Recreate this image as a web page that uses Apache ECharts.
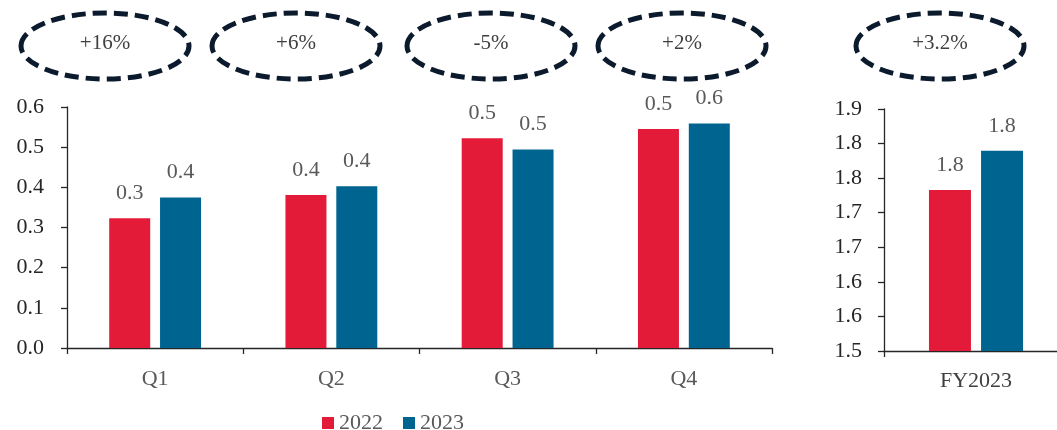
<!DOCTYPE html>
<html lang="en">
<head>
    <meta charset="UTF-8">
    <title>Quarterly vs FY</title>
    <script src="https://cdn.jsdelivr.net/npm/echarts@6/dist/echarts.min.js"></script>
    <style>
        html, body { margin: 0; padding: 0; background: #fff; }
        #chart { width: 1057px; height: 430px; }
    </style>
</head>
<body>
    <div id="chart"></div>

    <script>
// data
const quarters = ['Q1', 'Q2', 'Q3', 'Q4'];
const q2022 = [0.323, 0.381, 0.522, 0.545];
const q2023 = [0.375, 0.403, 0.494, 0.559];

const fyLabel = ['FY2023'];
const fy2022 = [1.766];
const fy2023 = [1.831];

const growthLabels = ['+16%', '+6%', '-5%', '+2%', '+3.2%'];

// left axis ticks 0.0 .. 0.6, right axis has 7 equal steps between 1.5 and 1.9
const leftTicks = [0, 0.1, 0.2, 0.3, 0.4, 0.5, 0.6];
const rightTicks = [1.5, 1.5571, 1.6143, 1.6714, 1.7286, 1.7857, 1.8429, 1.9];

// layout of the dashed bubbles (x centres)
const bubbleX = [105, 296, 491, 682, 940];

const RED = '#E31A38';
const BLUE = '#006490';
const FONT = "'Times New Roman', 'Liberation Serif', serif";
const FS = 22;

const chart = echarts.init(document.getElementById('chart'));

function fmt(v) {
    return Number(v).toFixed(1);
}

const axisLine = { show: true, lineStyle: { color: '#262626', width: 1.3 } };
const axisTick = { show: true, length: 6, lineStyle: { color: '#262626', width: 1.3 } };

function barLabel() {
    return {
        show: true,
        position: 'top',
        distance: 14,
        color: '#595959',
        fontSize: FS,
        fontFamily: FONT,
        formatter: p => fmt(p.value)
    };
}

const graphics = growthLabels.map((txt, i) => ({
    type: 'group',
    children: [
        {
            type: 'ellipse',
            shape: { cx: bubbleX[i], cy: 46, rx: 84, ry: 33 },
            style: { fill: 'rgba(0,0,0,0)', stroke: '#0b1a2c', lineWidth: 5, lineDash: [14, 7] }
        },
        {
            type: 'text',
            x: bubbleX[i],
            y: 43,
            style: {
                text: txt,
                fill: '#404040',
                font: '21px ' + FONT,
                textAlign: 'center',
                textVerticalAlign: 'middle'
            }
        }
    ]
}));

const option = {
    backgroundColor: '#fff',
    animation: false,
    textStyle: { fontFamily: FONT },
    legend: {
        data: ['2022', '2023'],
        left: 317,
        top: 407,
        icon: 'rect',
        itemWidth: 12,
        itemHeight: 12,
        itemGap: 20,
        textStyle: { color: '#595959', fontSize: FS, fontFamily: FONT }
    },
    graphic: graphics,
    grid: [
        { left: 67, top: 107, width: 705, height: 241, outerBoundsMode: 'none' },
        { left: 884, top: 109, width: 184, height: 242, outerBoundsMode: 'none' }
    ],
    xAxis: [
        {
            type: 'category',
            gridIndex: 0,
            data: quarters,
            axisLine: axisLine,
            axisTick: axisTick,
            axisLabel: { color: '#595959', fontSize: FS, fontFamily: FONT, margin: 20 }
        },
        {
            type: 'category',
            gridIndex: 1,
            data: fyLabel,
            axisLine: axisLine,
            axisTick: axisTick,
            axisLabel: { color: '#404040', fontSize: FS, fontFamily: FONT, margin: 19 }
        }
    ],
    yAxis: [
        {
            type: 'value',
            gridIndex: 0,
            min: 0,
            max: 0.6,
            axisLine: axisLine,
            axisTick: Object.assign({ customValues: leftTicks }, axisTick),
            splitLine: { show: false },
            axisLabel: {
                customValues: leftTicks,
                color: '#262626', fontSize: FS, fontFamily: FONT, margin: 23,
                formatter: fmt
            }
        },
        {
            type: 'value',
            gridIndex: 1,
            min: 1.5,
            max: 1.9,
            axisLine: axisLine,
            axisTick: Object.assign({ customValues: rightTicks }, axisTick),
            splitLine: { show: false },
            axisLabel: {
                customValues: rightTicks,
                color: '#262626', fontSize: FS, fontFamily: FONT, margin: 22,
                formatter: fmt
            }
        }
    ],
    series: [
        {
            name: '2022', type: 'bar', xAxisIndex: 0, yAxisIndex: 0,
            data: q2022, barWidth: 41, barGap: '24%',
            itemStyle: { color: RED }, label: barLabel()
        },
        {
            name: '2023', type: 'bar', xAxisIndex: 0, yAxisIndex: 0,
            data: q2023, barWidth: 41, barGap: '24%',
            itemStyle: { color: BLUE }, label: barLabel()
        },
        {
            name: '2022', type: 'bar', xAxisIndex: 1, yAxisIndex: 1,
            data: fy2022, barWidth: 42, barGap: '24%',
            itemStyle: { color: RED }, label: barLabel()
        },
        {
            name: '2023', type: 'bar', xAxisIndex: 1, yAxisIndex: 1,
            data: fy2023, barWidth: 42, barGap: '24%',
            itemStyle: { color: BLUE }, label: barLabel()
        }
    ]
};

chart.setOption(option);
    </script>
</body>
</html>
